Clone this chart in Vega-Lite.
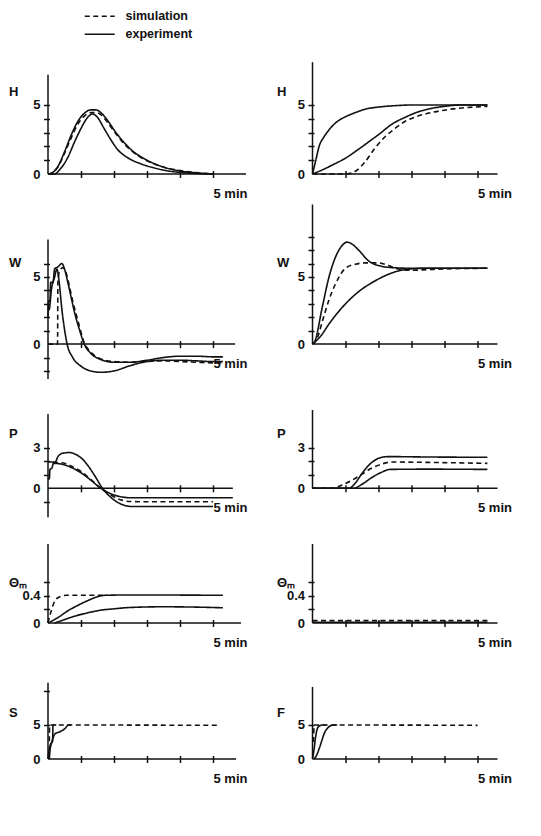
{
  "$schema": "https://vega.github.io/schema/vega-lite/v6.json",
  "background": "white",
  "padding": {"left": 8, "top": 10, "right": 0, "bottom": 0},
  "columns": 2,
  "spacing": {"row": 5, "column": 66.5},
  "bounds": "flush",
  "align": "each",
  "config": {
    "font": "Liberation Sans",
    "view": {"stroke": null},
    "axis": {"grid": false, "domain": false, "tickCount": 50, "labelFont": "Liberation Sans", "labelFontSize": 13, "labelFontWeight": "bold", "labelColor": "#111", "tickColor": "#111", "tickWidth": 1.5, "titleFont": "Liberation Sans", "titleFontSize": 13, "titleFontWeight": "bold", "titleColor": "#111", "labelFlush": false, "labelOverlap": false},
    "legend": {"orient": "none", "legendX": 45.5, "legendY": -49, "direction": "vertical", "title": null, "symbolType": "M-3,0H3", "symbolSize": 100, "symbolStrokeWidth": 1.6, "symbolStrokeColor": "#111", "labelFont": "Liberation Sans", "labelFontSize": 12.5, "labelFontWeight": "bold", "labelColor": "#111", "labelOffset": 19.5, "rowPadding": 5, "padding": 0}
  },
  "datasets": {
    "H1": [
      {"t":0,"v":0,"c":"s","type":"simulation"},{"t":0.1,"v":0.05,"c":"s","type":"simulation"},{"t":0.3,"v":0.5,"c":"s","type":"simulation"},{"t":0.5,"v":1.5,"c":"s","type":"simulation"},{"t":0.7,"v":2.6,"c":"s","type":"simulation"},{"t":0.9,"v":3.6,"c":"s","type":"simulation"},{"t":1.1,"v":4.2,"c":"s","type":"simulation"},{"t":1.3,"v":4.45,"c":"s","type":"simulation"},{"t":1.45,"v":4.45,"c":"s","type":"simulation"},{"t":1.6,"v":4.3,"c":"s","type":"simulation"},{"t":1.8,"v":3.75,"c":"s","type":"simulation"},{"t":2.0,"v":3.1,"c":"s","type":"simulation"},{"t":2.3,"v":2.2,"c":"s","type":"simulation"},{"t":2.6,"v":1.55,"c":"s","type":"simulation"},{"t":3.0,"v":0.95,"c":"s","type":"simulation"},{"t":3.5,"v":0.5,"c":"s","type":"simulation"},{"t":4.0,"v":0.25,"c":"s","type":"simulation"},{"t":4.5,"v":0.1,"c":"s","type":"simulation"},{"t":5.0,"v":0.02,"c":"s","type":"simulation"},
      {"t":0,"v":0,"c":"a","type":"experiment"},{"t":0.1,"v":0.05,"c":"a","type":"experiment"},{"t":0.3,"v":0.55,"c":"a","type":"experiment"},{"t":0.5,"v":1.6,"c":"a","type":"experiment"},{"t":0.7,"v":2.8,"c":"a","type":"experiment"},{"t":0.9,"v":3.8,"c":"a","type":"experiment"},{"t":1.1,"v":4.4,"c":"a","type":"experiment"},{"t":1.3,"v":4.65,"c":"a","type":"experiment"},{"t":1.45,"v":4.65,"c":"a","type":"experiment"},{"t":1.6,"v":4.45,"c":"a","type":"experiment"},{"t":1.8,"v":3.9,"c":"a","type":"experiment"},{"t":2.0,"v":3.2,"c":"a","type":"experiment"},{"t":2.3,"v":2.3,"c":"a","type":"experiment"},{"t":2.6,"v":1.6,"c":"a","type":"experiment"},{"t":3.0,"v":1.0,"c":"a","type":"experiment"},{"t":3.5,"v":0.5,"c":"a","type":"experiment"},{"t":4.0,"v":0.22,"c":"a","type":"experiment"},{"t":4.5,"v":0.08,"c":"a","type":"experiment"},{"t":5.0,"v":0.0,"c":"a","type":"experiment"},
      {"t":0,"v":0,"c":"b","type":"experiment"},{"t":0.2,"v":0,"c":"b","type":"experiment"},{"t":0.35,"v":0.3,"c":"b","type":"experiment"},{"t":0.6,"v":1.2,"c":"b","type":"experiment"},{"t":0.8,"v":2.3,"c":"b","type":"experiment"},{"t":1.0,"v":3.3,"c":"b","type":"experiment"},{"t":1.2,"v":4.1,"c":"b","type":"experiment"},{"t":1.35,"v":4.35,"c":"b","type":"experiment"},{"t":1.5,"v":4.1,"c":"b","type":"experiment"},{"t":1.7,"v":3.3,"c":"b","type":"experiment"},{"t":1.9,"v":2.5,"c":"b","type":"experiment"},{"t":2.1,"v":1.8,"c":"b","type":"experiment"},{"t":2.4,"v":1.2,"c":"b","type":"experiment"},{"t":2.8,"v":0.75,"c":"b","type":"experiment"},{"t":3.2,"v":0.45,"c":"b","type":"experiment"},{"t":3.7,"v":0.2,"c":"b","type":"experiment"},{"t":4.2,"v":0.08,"c":"b","type":"experiment"},{"t":4.7,"v":0.02,"c":"b","type":"experiment"},{"t":5.0,"v":0,"c":"b","type":"experiment"}
    ],
    "H2": [
      {"t":0,"v":0,"c":"a","type":"experiment"},{"t":0.1,"v":1.0,"c":"a","type":"experiment"},{"t":0.2,"v":2.0,"c":"a","type":"experiment"},{"t":0.35,"v":2.7,"c":"a","type":"experiment"},{"t":0.5,"v":3.2,"c":"a","type":"experiment"},{"t":0.75,"v":3.8,"c":"a","type":"experiment"},{"t":1.0,"v":4.15,"c":"a","type":"experiment"},{"t":1.3,"v":4.45,"c":"a","type":"experiment"},{"t":1.6,"v":4.7,"c":"a","type":"experiment"},{"t":2.0,"v":4.85,"c":"a","type":"experiment"},{"t":2.5,"v":4.95,"c":"a","type":"experiment"},{"t":3.0,"v":5.0,"c":"a","type":"experiment"},{"t":4.0,"v":5.0,"c":"a","type":"experiment"},{"t":5.3,"v":5.0,"c":"a","type":"experiment"},
      {"t":0,"v":0,"c":"b","type":"experiment"},{"t":0.3,"v":0.3,"c":"b","type":"experiment"},{"t":0.6,"v":0.65,"c":"b","type":"experiment"},{"t":1.0,"v":1.15,"c":"b","type":"experiment"},{"t":1.4,"v":1.8,"c":"b","type":"experiment"},{"t":1.8,"v":2.5,"c":"b","type":"experiment"},{"t":2.0,"v":2.85,"c":"b","type":"experiment"},{"t":2.4,"v":3.6,"c":"b","type":"experiment"},{"t":2.8,"v":4.1,"c":"b","type":"experiment"},{"t":3.2,"v":4.5,"c":"b","type":"experiment"},{"t":3.6,"v":4.75,"c":"b","type":"experiment"},{"t":4.0,"v":4.9,"c":"b","type":"experiment"},{"t":4.5,"v":5.0,"c":"b","type":"experiment"},{"t":5.3,"v":5.0,"c":"b","type":"experiment"},
      {"t":0,"v":0,"c":"s","type":"simulation"},{"t":1.0,"v":0,"c":"s","type":"simulation"},{"t":1.3,"v":0.2,"c":"s","type":"simulation"},{"t":1.6,"v":0.9,"c":"s","type":"simulation"},{"t":1.9,"v":1.9,"c":"s","type":"simulation"},{"t":2.2,"v":2.7,"c":"s","type":"simulation"},{"t":2.5,"v":3.3,"c":"s","type":"simulation"},{"t":2.8,"v":3.8,"c":"s","type":"simulation"},{"t":3.2,"v":4.2,"c":"s","type":"simulation"},{"t":3.7,"v":4.5,"c":"s","type":"simulation"},{"t":4.2,"v":4.7,"c":"s","type":"simulation"},{"t":4.7,"v":4.82,"c":"s","type":"simulation"},{"t":5.3,"v":4.9,"c":"s","type":"simulation"}
    ],
    "W1": [
      {"t":0,"v":2.0,"c":"a","type":"experiment"},{"t":0.02,"v":3.2,"c":"a","type":"experiment"},{"t":0.06,"v":3.2,"c":"a","type":"experiment"},{"t":0.08,"v":4.6,"c":"a","type":"experiment"},{"t":0.15,"v":4.6,"c":"a","type":"experiment"},{"t":0.2,"v":5.6,"c":"a","type":"experiment"},{"t":0.3,"v":5.75,"c":"a","type":"experiment"},{"t":0.42,"v":6.0,"c":"a","type":"experiment"},{"t":0.5,"v":5.6,"c":"a","type":"experiment"},{"t":0.6,"v":4.6,"c":"a","type":"experiment"},{"t":0.7,"v":3.5,"c":"a","type":"experiment"},{"t":0.8,"v":2.4,"c":"a","type":"experiment"},{"t":0.95,"v":1.1,"c":"a","type":"experiment"},{"t":1.1,"v":0,"c":"a","type":"experiment"},{"t":1.3,"v":-0.7,"c":"a","type":"experiment"},{"t":1.6,"v":-1.15,"c":"a","type":"experiment"},{"t":2.0,"v":-1.35,"c":"a","type":"experiment"},{"t":2.5,"v":-1.35,"c":"a","type":"experiment"},{"t":3.0,"v":-1.2,"c":"a","type":"experiment"},{"t":3.5,"v":-1.0,"c":"a","type":"experiment"},{"t":4.0,"v":-0.9,"c":"a","type":"experiment"},{"t":4.5,"v":-0.9,"c":"a","type":"experiment"},{"t":5.0,"v":-0.95,"c":"a","type":"experiment"},{"t":5.3,"v":-0.95,"c":"a","type":"experiment"},
      {"t":0,"v":2.5,"c":"b","type":"experiment"},{"t":0.04,"v":2.6,"c":"b","type":"experiment"},{"t":0.1,"v":4.0,"c":"b","type":"experiment"},{"t":0.2,"v":5.0,"c":"b","type":"experiment"},{"t":0.27,"v":5.6,"c":"b","type":"experiment"},{"t":0.33,"v":4.8,"c":"b","type":"experiment"},{"t":0.42,"v":2.6,"c":"b","type":"experiment"},{"t":0.5,"v":1.1,"c":"b","type":"experiment"},{"t":0.58,"v":0,"c":"b","type":"experiment"},{"t":0.75,"v":-1.0,"c":"b","type":"experiment"},{"t":1.0,"v":-1.65,"c":"b","type":"experiment"},{"t":1.3,"v":-2.0,"c":"b","type":"experiment"},{"t":1.6,"v":-2.1,"c":"b","type":"experiment"},{"t":2.0,"v":-2.0,"c":"b","type":"experiment"},{"t":2.5,"v":-1.6,"c":"b","type":"experiment"},{"t":3.0,"v":-1.3,"c":"b","type":"experiment"},{"t":3.5,"v":-1.2,"c":"b","type":"experiment"},{"t":4.0,"v":-1.2,"c":"b","type":"experiment"},{"t":4.5,"v":-1.25,"c":"b","type":"experiment"},{"t":5.0,"v":-1.3,"c":"b","type":"experiment"},{"t":5.3,"v":-1.3,"c":"b","type":"experiment"},
      {"t":0,"v":0,"c":"s","type":"simulation"},{"t":0.29,"v":0,"c":"s","type":"simulation"},{"t":0.3,"v":4.7,"c":"s","type":"simulation"},{"t":0.36,"v":5.5,"c":"s","type":"simulation"},{"t":0.45,"v":5.7,"c":"s","type":"simulation"},{"t":0.55,"v":5.3,"c":"s","type":"simulation"},{"t":0.65,"v":4.3,"c":"s","type":"simulation"},{"t":0.75,"v":3.2,"c":"s","type":"simulation"},{"t":0.9,"v":1.8,"c":"s","type":"simulation"},{"t":1.1,"v":0.1,"c":"s","type":"simulation"},{"t":1.3,"v":-0.6,"c":"s","type":"simulation"},{"t":1.6,"v":-1.1,"c":"s","type":"simulation"},{"t":2.0,"v":-1.3,"c":"s","type":"simulation"},{"t":2.5,"v":-1.35,"c":"s","type":"simulation"},{"t":3.0,"v":-1.3,"c":"s","type":"simulation"},{"t":3.5,"v":-1.25,"c":"s","type":"simulation"},{"t":4.0,"v":-1.3,"c":"s","type":"simulation"},{"t":4.5,"v":-1.35,"c":"s","type":"simulation"},{"t":5.0,"v":-1.4,"c":"s","type":"simulation"},{"t":5.3,"v":-1.4,"c":"s","type":"simulation"}
    ],
    "W2": [
      {"t":0,"v":0,"c":"a","type":"experiment"},{"t":0.06,"v":0.15,"c":"a","type":"experiment"},{"t":0.3,"v":2.8,"c":"a","type":"experiment"},{"t":0.5,"v":5.0,"c":"a","type":"experiment"},{"t":0.7,"v":6.5,"c":"a","type":"experiment"},{"t":0.9,"v":7.35,"c":"a","type":"experiment"},{"t":1.05,"v":7.6,"c":"a","type":"experiment"},{"t":1.2,"v":7.45,"c":"a","type":"experiment"},{"t":1.4,"v":7.0,"c":"a","type":"experiment"},{"t":1.7,"v":6.2,"c":"a","type":"experiment"},{"t":2.0,"v":5.85,"c":"a","type":"experiment"},{"t":2.4,"v":5.7,"c":"a","type":"experiment"},{"t":3.0,"v":5.65,"c":"a","type":"experiment"},{"t":4.0,"v":5.65,"c":"a","type":"experiment"},{"t":5.3,"v":5.65,"c":"a","type":"experiment"},
      {"t":0,"v":0,"c":"b","type":"experiment"},{"t":0.25,"v":0.6,"c":"b","type":"experiment"},{"t":0.5,"v":1.5,"c":"b","type":"experiment"},{"t":0.75,"v":2.3,"c":"b","type":"experiment"},{"t":1.0,"v":3.0,"c":"b","type":"experiment"},{"t":1.25,"v":3.6,"c":"b","type":"experiment"},{"t":1.5,"v":4.1,"c":"b","type":"experiment"},{"t":1.75,"v":4.5,"c":"b","type":"experiment"},{"t":2.0,"v":4.85,"c":"b","type":"experiment"},{"t":2.3,"v":5.2,"c":"b","type":"experiment"},{"t":2.6,"v":5.45,"c":"b","type":"experiment"},{"t":3.0,"v":5.6,"c":"b","type":"experiment"},{"t":3.5,"v":5.65,"c":"b","type":"experiment"},{"t":5.3,"v":5.65,"c":"b","type":"experiment"},
      {"t":0,"v":0,"c":"s","type":"simulation"},{"t":0.15,"v":0.5,"c":"s","type":"simulation"},{"t":0.3,"v":1.7,"c":"s","type":"simulation"},{"t":0.5,"v":3.3,"c":"s","type":"simulation"},{"t":0.7,"v":4.5,"c":"s","type":"simulation"},{"t":1.0,"v":5.65,"c":"s","type":"simulation"},{"t":1.3,"v":5.95,"c":"s","type":"simulation"},{"t":1.6,"v":6.05,"c":"s","type":"simulation"},{"t":2.0,"v":6.05,"c":"s","type":"simulation"},{"t":2.3,"v":5.85,"c":"s","type":"simulation"},{"t":2.6,"v":5.6,"c":"s","type":"simulation"},{"t":3.0,"v":5.5,"c":"s","type":"simulation"},{"t":3.5,"v":5.55,"c":"s","type":"simulation"},{"t":4.0,"v":5.6,"c":"s","type":"simulation"},{"t":5.3,"v":5.65,"c":"s","type":"simulation"}
    ],
    "P1": [
      {"t":0,"v":1.95,"c":"a","type":"experiment"},{"t":0.22,"v":1.95,"c":"a","type":"experiment"},{"t":0.3,"v":2.35,"c":"a","type":"experiment"},{"t":0.45,"v":2.6,"c":"a","type":"experiment"},{"t":0.65,"v":2.65,"c":"a","type":"experiment"},{"t":0.85,"v":2.5,"c":"a","type":"experiment"},{"t":1.05,"v":2.15,"c":"a","type":"experiment"},{"t":1.25,"v":1.55,"c":"a","type":"experiment"},{"t":1.45,"v":0.8,"c":"a","type":"experiment"},{"t":1.65,"v":0,"c":"a","type":"experiment"},{"t":1.85,"v":-0.55,"c":"a","type":"experiment"},{"t":2.05,"v":-0.95,"c":"a","type":"experiment"},{"t":2.3,"v":-1.25,"c":"a","type":"experiment"},{"t":2.55,"v":-1.35,"c":"a","type":"experiment"},{"t":3.0,"v":-1.35,"c":"a","type":"experiment"},{"t":4.0,"v":-1.35,"c":"a","type":"experiment"},{"t":5.0,"v":-1.35,"c":"a","type":"experiment"},
      {"t":0,"v":0.7,"c":"b","type":"experiment"},{"t":0.04,"v":0.7,"c":"b","type":"experiment"},{"t":0.06,"v":1.4,"c":"b","type":"experiment"},{"t":0.12,"v":1.5,"c":"b","type":"experiment"},{"t":0.16,"v":1.85,"c":"b","type":"experiment"},{"t":0.4,"v":1.8,"c":"b","type":"experiment"},{"t":0.7,"v":1.55,"c":"b","type":"experiment"},{"t":1.0,"v":1.15,"c":"b","type":"experiment"},{"t":1.3,"v":0.6,"c":"b","type":"experiment"},{"t":1.6,"v":0,"c":"b","type":"experiment"},{"t":1.9,"v":-0.4,"c":"b","type":"experiment"},{"t":2.2,"v":-0.62,"c":"b","type":"experiment"},{"t":2.5,"v":-0.7,"c":"b","type":"experiment"},{"t":3.5,"v":-0.7,"c":"b","type":"experiment"},{"t":5.6,"v":-0.7,"c":"b","type":"experiment"},
      {"t":0.15,"v":1.9,"c":"s","type":"simulation"},{"t":0.4,"v":1.9,"c":"s","type":"simulation"},{"t":0.7,"v":1.65,"c":"s","type":"simulation"},{"t":1.0,"v":1.25,"c":"s","type":"simulation"},{"t":1.3,"v":0.65,"c":"s","type":"simulation"},{"t":1.6,"v":0,"c":"s","type":"simulation"},{"t":1.9,"v":-0.5,"c":"s","type":"simulation"},{"t":2.2,"v":-0.85,"c":"s","type":"simulation"},{"t":2.5,"v":-0.98,"c":"s","type":"simulation"},{"t":3.0,"v":-1.0,"c":"s","type":"simulation"},{"t":5.0,"v":-1.0,"c":"s","type":"simulation"}
    ],
    "P2": [
      {"t":0,"v":0,"c":"a","type":"experiment"},{"t":1.1,"v":0,"c":"a","type":"experiment"},{"t":1.3,"v":0.4,"c":"a","type":"experiment"},{"t":1.5,"v":1.1,"c":"a","type":"experiment"},{"t":1.7,"v":1.7,"c":"a","type":"experiment"},{"t":1.9,"v":2.1,"c":"a","type":"experiment"},{"t":2.1,"v":2.3,"c":"a","type":"experiment"},{"t":2.3,"v":2.35,"c":"a","type":"experiment"},{"t":3.5,"v":2.32,"c":"a","type":"experiment"},{"t":5.3,"v":2.3,"c":"a","type":"experiment"},
      {"t":0,"v":0,"c":"b","type":"experiment"},{"t":1.25,"v":0,"c":"b","type":"experiment"},{"t":1.5,"v":0.3,"c":"b","type":"experiment"},{"t":1.8,"v":0.8,"c":"b","type":"experiment"},{"t":2.1,"v":1.2,"c":"b","type":"experiment"},{"t":2.35,"v":1.4,"c":"b","type":"experiment"},{"t":3.5,"v":1.42,"c":"b","type":"experiment"},{"t":5.3,"v":1.4,"c":"b","type":"experiment"},
      {"t":0,"v":0,"c":"s","type":"simulation"},{"t":0.6,"v":0,"c":"s","type":"simulation"},{"t":0.9,"v":0.25,"c":"s","type":"simulation"},{"t":1.2,"v":0.6,"c":"s","type":"simulation"},{"t":1.5,"v":1.05,"c":"s","type":"simulation"},{"t":1.8,"v":1.5,"c":"s","type":"simulation"},{"t":2.1,"v":1.8,"c":"s","type":"simulation"},{"t":2.4,"v":1.95,"c":"s","type":"simulation"},{"t":3.5,"v":1.92,"c":"s","type":"simulation"},{"t":5.3,"v":1.85,"c":"s","type":"simulation"}
    ],
    "T1": [
      {"t":0,"v":0,"c":"s","type":"simulation"},{"t":0.05,"v":0.1,"c":"s","type":"simulation"},{"t":0.11,"v":0.2,"c":"s","type":"simulation"},{"t":0.21,"v":0.33,"c":"s","type":"simulation"},{"t":0.36,"v":0.39,"c":"s","type":"simulation"},{"t":0.56,"v":0.41,"c":"s","type":"simulation"},{"t":1.0,"v":0.41,"c":"s","type":"simulation"},{"t":1.8,"v":0.41,"c":"s","type":"simulation"},
      {"t":0,"v":0,"c":"a","type":"experiment"},{"t":0.3,"v":0.08,"c":"a","type":"experiment"},{"t":0.6,"v":0.18,"c":"a","type":"experiment"},{"t":0.9,"v":0.26,"c":"a","type":"experiment"},{"t":1.2,"v":0.33,"c":"a","type":"experiment"},{"t":1.5,"v":0.39,"c":"a","type":"experiment"},{"t":1.75,"v":0.41,"c":"a","type":"experiment"},{"t":2.5,"v":0.415,"c":"a","type":"experiment"},{"t":5.3,"v":0.41,"c":"a","type":"experiment"},
      {"t":0.2,"v":0,"c":"b","type":"experiment"},{"t":0.5,"v":0.05,"c":"b","type":"experiment"},{"t":0.8,"v":0.1,"c":"b","type":"experiment"},{"t":1.2,"v":0.15,"c":"b","type":"experiment"},{"t":1.6,"v":0.19,"c":"b","type":"experiment"},{"t":2.0,"v":0.21,"c":"b","type":"experiment"},{"t":2.5,"v":0.23,"c":"b","type":"experiment"},{"t":3.5,"v":0.24,"c":"b","type":"experiment"},{"t":4.5,"v":0.235,"c":"b","type":"experiment"},{"t":5.3,"v":0.225,"c":"b","type":"experiment"}
    ],
    "T2": [
      {"t":0,"v":0.035,"c":"s","type":"simulation"},{"t":5.3,"v":0.035,"c":"s","type":"simulation"},
      {"t":0,"v":0.01,"c":"a","type":"experiment"},{"t":5.3,"v":0.01,"c":"a","type":"experiment"}
    ],
    "S1": [
      {"t":0.04,"v":2.6,"c":"s","type":"simulation"},{"t":0.05,"v":5.0,"c":"s","type":"simulation"},{"t":5.2,"v":4.95,"c":"s","type":"simulation"},
      {"t":0,"v":0,"c":"a","type":"experiment"},{"t":0.03,"v":1.2,"c":"a","type":"experiment"},{"t":0.08,"v":2.2,"c":"a","type":"experiment"},{"t":0.14,"v":2.6,"c":"a","type":"experiment"},{"t":0.15,"v":5.0,"c":"a","type":"experiment"},{"t":0.25,"v":5.0,"c":"a","type":"experiment"},
      {"t":0.04,"v":0,"c":"b","type":"experiment"},{"t":0.06,"v":1.2,"c":"b","type":"experiment"},{"t":0.11,"v":2.4,"c":"b","type":"experiment"},{"t":0.16,"v":3.2,"c":"b","type":"experiment"},{"t":0.21,"v":3.7,"c":"b","type":"experiment"},{"t":0.36,"v":4.0,"c":"b","type":"experiment"},{"t":0.52,"v":4.5,"c":"b","type":"experiment"},{"t":0.62,"v":5.0,"c":"b","type":"experiment"},{"t":0.7,"v":5.0,"c":"b","type":"experiment"}
    ],
    "F1": [
      {"t":0.03,"v":2.5,"c":"s","type":"simulation"},{"t":0.05,"v":5.0,"c":"s","type":"simulation"},{"t":5.0,"v":4.95,"c":"s","type":"simulation"},
      {"t":0,"v":0,"c":"a","type":"experiment"},{"t":0.05,"v":1.5,"c":"a","type":"experiment"},{"t":0.09,"v":3.1,"c":"a","type":"experiment"},{"t":0.15,"v":4.5,"c":"a","type":"experiment"},{"t":0.22,"v":4.9,"c":"a","type":"experiment"},{"t":0.3,"v":5.0,"c":"a","type":"experiment"},{"t":0.4,"v":5.0,"c":"a","type":"experiment"},
      {"t":0.05,"v":0,"c":"b","type":"experiment"},{"t":0.12,"v":0.5,"c":"b","type":"experiment"},{"t":0.2,"v":1.5,"c":"b","type":"experiment"},{"t":0.27,"v":2.5,"c":"b","type":"experiment"},{"t":0.36,"v":3.8,"c":"b","type":"experiment"},{"t":0.45,"v":4.5,"c":"b","type":"experiment"},{"t":0.55,"v":4.9,"c":"b","type":"experiment"},{"t":0.65,"v":5.0,"c":"b","type":"experiment"},{"t":0.75,"v":5.0,"c":"b","type":"experiment"}
    ]
  },
  "concat": [
    {
      "width": 198, "height": 115, "data": {"name": "H1"},
      "layer": [
        {"mark": {"type": "line", "interpolate": "monotone", "color": "#111", "strokeWidth": 1.6},
         "encoding": {
           "x": {"field": "t", "type": "quantitative", "scale": {"domain": [0, 6], "nice": false, "zero": false}, "axis": {"values": [1,2,3,4,5], "tickCount": 50, "labelExpr": "datum.value == 5 ? '5  min' : ''", "labelAlign": "left", "labelDx": -3.6, "tickSize": 7, "offset": -3.5, "labelPadding": 9.5, "title": null}},
           "y": {"field": "v", "type": "quantitative", "scale": {"domain": [0, 8.333], "nice": false, "zero": false}, "axis": {"values": [0,1,2,3,4,5], "tickCount": 50, "labelExpr": "datum.value == 0 ? '0' : datum.value == 5 ? '5' : ''", "tickSize": 6, "offset": -1.5, "labelPadding": 3.5, "title": "H", "titleAngle": 0, "titleAlign": "left", "titleBaseline": "middle", "titleX": -41, "titleY": 32, "tickOpacity": {"condition": {"test": "datum.value == 0", "value": 0}, "value": 1}}},
           "detail": {"field": "c"},
           "strokeDash": {"field": "type", "type": "nominal", "scale": {"domain": ["simulation", "experiment"], "range": [[5, 3.5], [1, 0]]}}
         }},
        {"data": {"values": [{}]}, "mark": {"type": "rule", "color": "#111", "strokeWidth": 1.5}, "encoding": {"x": {"datum": 0, "type": "quantitative"}, "y": {"datum": 0, "type": "quantitative"}, "y2": {"datum": 7.2}}},
        {"data": {"values": [{}]}, "mark": {"type": "rule", "color": "#111", "strokeWidth": 1.5}, "encoding": {"y": {"datum": 0, "type": "quantitative"}, "x": {"datum": 0, "type": "quantitative"}, "x2": {"datum": 6.0}}}
      ]
    },
    {
      "width": 185, "height": 115, "data": {"name": "H2"},
      "layer": [
        {"mark": {"type": "line", "interpolate": "monotone", "color": "#111", "strokeWidth": 1.6},
         "encoding": {
           "x": {"field": "t", "type": "quantitative", "scale": {"domain": [0, 5.606], "nice": false, "zero": false}, "axis": {"values": [1,2,3,4,5], "tickCount": 50, "labelExpr": "datum.value == 5 ? '5  min' : ''", "labelAlign": "left", "labelDx": -3.6, "tickSize": 7, "offset": -3.5, "labelPadding": 9.5, "title": null}},
           "y": {"field": "v", "type": "quantitative", "scale": {"domain": [0, 8.333], "nice": false, "zero": false}, "axis": {"values": [0,1,2,3,4,5], "tickCount": 50, "labelExpr": "datum.value == 0 ? '0' : datum.value == 5 ? '5' : ''", "tickSize": 6, "offset": -1.5, "labelPadding": 3.5, "title": "H", "titleAngle": 0, "titleAlign": "left", "titleBaseline": "middle", "titleX": -37.5, "titleY": 32, "tickOpacity": {"condition": {"test": "datum.value == 0", "value": 0}, "value": 1}}},
           "detail": {"field": "c"},
           "strokeDash": {"field": "type", "type": "nominal", "scale": {"domain": ["simulation", "experiment"], "range": [[5, 3.5], [1, 0]]}}
         }},
        {"data": {"values": [{}]}, "mark": {"type": "rule", "color": "#111", "strokeWidth": 1.5}, "encoding": {"x": {"datum": 0, "type": "quantitative"}, "y": {"datum": 0, "type": "quantitative"}, "y2": {"datum": 8.1}}},
        {"data": {"values": [{}]}, "mark": {"type": "rule", "color": "#111", "strokeWidth": 1.5}, "encoding": {"y": {"datum": 0, "type": "quantitative"}, "x": {"datum": 0, "type": "quantitative"}, "x2": {"datum": 5.606}}}
      ]
    },
    {
      "width": 198, "height": 200, "data": {"name": "W1"},
      "layer": [
        {"mark": {"type": "line", "interpolate": "monotone", "color": "#111", "strokeWidth": 1.6},
         "encoding": {
           "x": {"field": "t", "type": "quantitative", "scale": {"domain": [0, 6], "nice": false, "zero": false}, "axis": {"values": [1,2,3,4,5], "tickCount": 50, "labelExpr": "datum.value == 5 ? '5  min' : ''", "labelAlign": "left", "labelDx": -3.6, "tickSize": 7, "offset": -38.4, "labelPadding": 9.5, "title": null}},
           "y": {"field": "v", "type": "quantitative", "scale": {"domain": [-2.6, 12.3], "nice": false, "zero": false}, "axis": {"values": [-2,-1,0,1,2,3,4,5,6], "tickCount": 50, "labelExpr": "datum.value == 0 ? '0' : datum.value == 5 ? '5' : ''", "tickSize": 6, "offset": -1.5, "labelPadding": 3.5, "title": "W", "titleAngle": 0, "titleAlign": "left", "titleBaseline": "middle", "titleX": -41, "titleY": 83, "tickOpacity": {"condition": {"test": "datum.value == 0", "value": 0}, "value": 1}}},
           "detail": {"field": "c"},
           "strokeDash": {"field": "type", "type": "nominal", "scale": {"domain": ["simulation", "experiment"], "range": [[5, 3.5], [1, 0]]}}
         }},
        {"data": {"values": [{}]}, "mark": {"type": "rule", "color": "#111", "strokeWidth": 1.5}, "encoding": {"x": {"datum": 0, "type": "quantitative"}, "y": {"datum": -2.6, "type": "quantitative"}, "y2": {"datum": 7.8}}},
        {"data": {"values": [{}]}, "mark": {"type": "rule", "color": "#111", "strokeWidth": 1.5}, "encoding": {"y": {"datum": 0, "type": "quantitative"}, "x": {"datum": 0, "type": "quantitative"}, "x2": {"datum": 5.67}}}
      ]
    },
    {
      "width": 185, "height": 200, "data": {"name": "W2"},
      "layer": [
        {"mark": {"type": "line", "interpolate": "monotone", "color": "#111", "strokeWidth": 1.6},
         "encoding": {
           "x": {"field": "t", "type": "quantitative", "scale": {"domain": [0, 5.606], "nice": false, "zero": false}, "axis": {"values": [1,2,3,4,5], "tickCount": 50, "labelExpr": "datum.value == 5 ? '5  min' : ''", "labelAlign": "left", "labelDx": -3.6, "tickSize": 7, "offset": -38.4, "labelPadding": 9.5, "title": null}},
           "y": {"field": "v", "type": "quantitative", "scale": {"domain": [-2.6, 12.3], "nice": false, "zero": false}, "axis": {"values": [0,1,2,3,4,5,6,7,8], "tickCount": 50, "labelExpr": "datum.value == 0 ? '0' : datum.value == 5 ? '5' : ''", "tickSize": 6, "offset": -1.5, "labelPadding": 3.5, "title": "W", "titleAngle": 0, "titleAlign": "left", "titleBaseline": "middle", "titleX": -37.5, "titleY": 83, "tickOpacity": {"condition": {"test": "datum.value == 0", "value": 0}, "value": 1}}},
           "detail": {"field": "c"},
           "strokeDash": {"field": "type", "type": "nominal", "scale": {"domain": ["simulation", "experiment"], "range": [[5, 3.5], [1, 0]]}}
         }},
        {"data": {"values": [{}]}, "mark": {"type": "rule", "color": "#111", "strokeWidth": 1.5}, "encoding": {"x": {"datum": 0, "type": "quantitative"}, "y": {"datum": 0, "type": "quantitative"}, "y2": {"datum": 10.4}}},
        {"data": {"values": [{}]}, "mark": {"type": "rule", "color": "#111", "strokeWidth": 1.5}, "encoding": {"y": {"datum": 0, "type": "quantitative"}, "x": {"datum": 0, "type": "quantitative"}, "x2": {"datum": 5.606}}}
      ]
    },
    {
      "width": 198, "height": 134, "data": {"name": "P1"},
      "layer": [
        {"mark": {"type": "line", "interpolate": "monotone", "color": "#111", "strokeWidth": 1.6},
         "encoding": {
           "x": {"field": "t", "type": "quantitative", "scale": {"domain": [0, 6], "nice": false, "zero": false}, "axis": {"values": [1,2,3,4,5], "tickCount": 50, "labelExpr": "datum.value == 5 ? '5  min' : ''", "labelAlign": "left", "labelDx": -3.6, "tickSize": 7, "offset": -33.2, "labelPadding": 9.5, "title": null}},
           "y": {"field": "v", "type": "quantitative", "scale": {"domain": [-2.2, 7.73], "nice": false, "zero": false}, "axis": {"values": [-1,0,1,2,3], "tickCount": 50, "labelExpr": "datum.value == 0 ? '0' : datum.value == 3 ? '3' : ''", "tickSize": 6, "offset": -1.5, "labelPadding": 3.5, "title": "P", "titleAngle": 0, "titleAlign": "left", "titleBaseline": "middle", "titleX": -41, "titleY": 49, "tickOpacity": {"condition": {"test": "datum.value == 0", "value": 0}, "value": 1}}},
           "detail": {"field": "c"},
           "strokeDash": {"field": "type", "type": "nominal", "scale": {"domain": ["simulation", "experiment"], "range": [[5, 3.5], [1, 0]]}}
         }},
        {"data": {"values": [{}]}, "mark": {"type": "rule", "color": "#111", "strokeWidth": 1.5}, "encoding": {"x": {"datum": 0, "type": "quantitative"}, "y": {"datum": -2.15, "type": "quantitative"}, "y2": {"datum": 5.5}}},
        {"data": {"values": [{}]}, "mark": {"type": "rule", "color": "#111", "strokeWidth": 1.5}, "encoding": {"y": {"datum": 0, "type": "quantitative"}, "x": {"datum": 0, "type": "quantitative"}, "x2": {"datum": 5.6}}}
      ]
    },
    {
      "width": 185, "height": 134, "data": {"name": "P2"},
      "layer": [
        {"mark": {"type": "line", "interpolate": "monotone", "color": "#111", "strokeWidth": 1.6},
         "encoding": {
           "x": {"field": "t", "type": "quantitative", "scale": {"domain": [0, 5.606], "nice": false, "zero": false}, "axis": {"values": [1,2,3,4,5], "tickCount": 50, "labelExpr": "datum.value == 5 ? '5  min' : ''", "labelAlign": "left", "labelDx": -3.6, "tickSize": 7, "offset": -33.2, "labelPadding": 9.5, "title": null}},
           "y": {"field": "v", "type": "quantitative", "scale": {"domain": [-2.2, 7.73], "nice": false, "zero": false}, "axis": {"values": [0,1,2,3], "tickCount": 50, "labelExpr": "datum.value == 0 ? '0' : datum.value == 3 ? '3' : ''", "tickSize": 6, "offset": -1.5, "labelPadding": 3.5, "title": "P", "titleAngle": 0, "titleAlign": "left", "titleBaseline": "middle", "titleX": -37.5, "titleY": 49, "tickOpacity": {"condition": {"test": "datum.value == 0", "value": 0}, "value": 1}}},
           "detail": {"field": "c"},
           "strokeDash": {"field": "type", "type": "nominal", "scale": {"domain": ["simulation", "experiment"], "range": [[5, 3.5], [1, 0]]}}
         }},
        {"data": {"values": [{}]}, "mark": {"type": "rule", "color": "#111", "strokeWidth": 1.5}, "encoding": {"x": {"datum": 0, "type": "quantitative"}, "y": {"datum": 0, "type": "quantitative"}, "y2": {"datum": 5.8}}},
        {"data": {"values": [{}]}, "mark": {"type": "rule", "color": "#111", "strokeWidth": 1.5}, "encoding": {"y": {"datum": 0, "type": "quantitative"}, "x": {"datum": 0, "type": "quantitative"}, "x2": {"datum": 5.606}}}
      ]
    },
    {
      "width": 198, "height": 100, "data": {"name": "T1"},
      "layer": [
        {"mark": {"type": "line", "interpolate": "monotone", "color": "#111", "strokeWidth": 1.6},
         "encoding": {
           "x": {"field": "t", "type": "quantitative", "scale": {"domain": [0, 6], "nice": false, "zero": false}, "axis": {"values": [1,2,3,4,5], "tickCount": 50, "labelExpr": "datum.value == 5 ? '5  min' : ''", "labelAlign": "left", "labelDx": -3.6, "tickSize": 7, "offset": -3.5, "labelPadding": 9.5, "title": null}},
           "y": {"field": "v", "type": "quantitative", "scale": {"domain": [0, 1.48], "nice": false, "zero": false}, "axis": {"values": [0,0.2,0.4,0.6], "tickCount": 50, "labelExpr": "datum.value == 0 ? '0' : datum.value == 0.4 ? '0.4' : ''", "tickSize": 6, "offset": -1.5, "labelPadding": 3.5, "title": "Θₘ", "titleAngle": 0, "titleAlign": "left", "titleBaseline": "middle", "titleX": -41, "titleY": 59, "tickOpacity": {"condition": {"test": "datum.value == 0", "value": 0}, "value": 1}}},
           "detail": {"field": "c"},
           "strokeDash": {"field": "type", "type": "nominal", "scale": {"domain": ["simulation", "experiment"], "range": [[5, 3.5], [1, 0]]}}
         }},
        {"data": {"values": [{}]}, "mark": {"type": "rule", "color": "#111", "strokeWidth": 1.5}, "encoding": {"x": {"datum": 0, "type": "quantitative"}, "y": {"datum": 0, "type": "quantitative"}, "y2": {"datum": 1.17}}},
        {"data": {"values": [{}]}, "mark": {"type": "rule", "color": "#111", "strokeWidth": 1.5}, "encoding": {"y": {"datum": 0, "type": "quantitative"}, "x": {"datum": 0, "type": "quantitative"}, "x2": {"datum": 5.85}}}
      ]
    },
    {
      "width": 185, "height": 100, "data": {"name": "T2"},
      "layer": [
        {"mark": {"type": "line", "interpolate": "monotone", "color": "#111", "strokeWidth": 1.6},
         "encoding": {
           "x": {"field": "t", "type": "quantitative", "scale": {"domain": [0, 5.606], "nice": false, "zero": false}, "axis": {"values": [1,2,3,4,5], "tickCount": 50, "labelExpr": "datum.value == 5 ? '5  min' : ''", "labelAlign": "left", "labelDx": -3.6, "tickSize": 7, "offset": -3.5, "labelPadding": 9.5, "title": null}},
           "y": {"field": "v", "type": "quantitative", "scale": {"domain": [0, 1.48], "nice": false, "zero": false}, "axis": {"values": [0,0.2,0.4,0.6], "tickCount": 50, "labelExpr": "datum.value == 0 ? '0' : datum.value == 0.4 ? '0.4' : ''", "tickSize": 6, "offset": -1.5, "labelPadding": 3.5, "title": "Θₘ", "titleAngle": 0, "titleAlign": "left", "titleBaseline": "middle", "titleX": -37.5, "titleY": 59, "tickOpacity": {"condition": {"test": "datum.value == 0", "value": 0}, "value": 1}}},
           "detail": {"field": "c"},
           "strokeDash": {"field": "type", "type": "nominal", "scale": {"domain": ["simulation", "experiment"], "range": [[5, 3.5], [1, 0]]}}
         }},
        {"data": {"values": [{}]}, "mark": {"type": "rule", "color": "#111", "strokeWidth": 1.5}, "encoding": {"x": {"datum": 0, "type": "quantitative"}, "y": {"datum": 0, "type": "quantitative"}, "y2": {"datum": 1.17}}},
        {"data": {"values": [{}]}, "mark": {"type": "rule", "color": "#111", "strokeWidth": 1.5}, "encoding": {"y": {"datum": 0, "type": "quantitative"}, "x": {"datum": 0, "type": "quantitative"}, "x2": {"datum": 5.606}}}
      ]
    },
    {
      "width": 198, "height": 131, "data": {"name": "S1"},
      "layer": [
        {"mark": {"type": "line", "interpolate": "monotone", "color": "#111", "strokeWidth": 1.6},
         "encoding": {
           "x": {"field": "t", "type": "quantitative", "scale": {"domain": [0, 6], "nice": false, "zero": false}, "axis": {"values": [1,2,3,4,5], "tickCount": 50, "labelExpr": "datum.value == 5 ? '5  min' : ''", "labelAlign": "left", "labelDx": -3.6, "tickSize": 7, "offset": -3.5, "labelPadding": 9.5, "title": null}},
           "y": {"field": "v", "type": "quantitative", "scale": {"domain": [0, 19.26], "nice": false, "zero": false}, "axis": {"values": [0,5,10], "tickCount": 50, "labelExpr": "datum.value == 0 ? '0' : datum.value == 5 ? '5' : ''", "tickSize": 6, "offset": -1.5, "labelPadding": 3.5, "title": "S", "titleAngle": 0, "titleAlign": "left", "titleBaseline": "middle", "titleX": -41, "titleY": 84, "tickOpacity": {"condition": {"test": "datum.value == 0", "value": 0}, "value": 1}}},
           "detail": {"field": "c"},
           "strokeDash": {"field": "type", "type": "nominal", "scale": {"domain": ["simulation", "experiment"], "range": [[5, 3.5], [1, 0]]}}
         }},
        {"data": {"values": [{}]}, "mark": {"type": "rule", "color": "#111", "strokeWidth": 1.5}, "encoding": {"x": {"datum": 0, "type": "quantitative"}, "y": {"datum": 0, "type": "quantitative"}, "y2": {"datum": 11.2}}},
        {"data": {"values": [{}]}, "mark": {"type": "rule", "color": "#111", "strokeWidth": 1.5}, "encoding": {"y": {"datum": 0, "type": "quantitative"}, "x": {"datum": 0, "type": "quantitative"}, "x2": {"datum": 5.7}}}
      ]
    },
    {
      "width": 185, "height": 131, "data": {"name": "F1"},
      "layer": [
        {"mark": {"type": "line", "interpolate": "monotone", "color": "#111", "strokeWidth": 1.6},
         "encoding": {
           "x": {"field": "t", "type": "quantitative", "scale": {"domain": [0, 5.606], "nice": false, "zero": false}, "axis": {"values": [1,2,3,4,5], "tickCount": 50, "labelExpr": "datum.value == 5 ? '5  min' : ''", "labelAlign": "left", "labelDx": -3.6, "tickSize": 7, "offset": -3.5, "labelPadding": 9.5, "title": null}},
           "y": {"field": "v", "type": "quantitative", "scale": {"domain": [0, 19.26], "nice": false, "zero": false}, "axis": {"values": [0,5], "tickCount": 50, "labelExpr": "datum.value == 0 ? '0' : datum.value == 5 ? '5' : ''", "tickSize": 6, "offset": -1.5, "labelPadding": 3.5, "title": "F", "titleAngle": 0, "titleAlign": "left", "titleBaseline": "middle", "titleX": -37.5, "titleY": 84, "tickOpacity": {"condition": {"test": "datum.value == 0", "value": 0}, "value": 1}}},
           "detail": {"field": "c"},
           "strokeDash": {"field": "type", "type": "nominal", "scale": {"domain": ["simulation", "experiment"], "range": [[5, 3.5], [1, 0]]}}
         }},
        {"data": {"values": [{}]}, "mark": {"type": "rule", "color": "#111", "strokeWidth": 1.5}, "encoding": {"x": {"datum": 0, "type": "quantitative"}, "y": {"datum": 0, "type": "quantitative"}, "y2": {"datum": 10.6}}},
        {"data": {"values": [{}]}, "mark": {"type": "rule", "color": "#111", "strokeWidth": 1.5}, "encoding": {"y": {"datum": 0, "type": "quantitative"}, "x": {"datum": 0, "type": "quantitative"}, "x2": {"datum": 5.606}}}
      ]
    }
  ]
}
